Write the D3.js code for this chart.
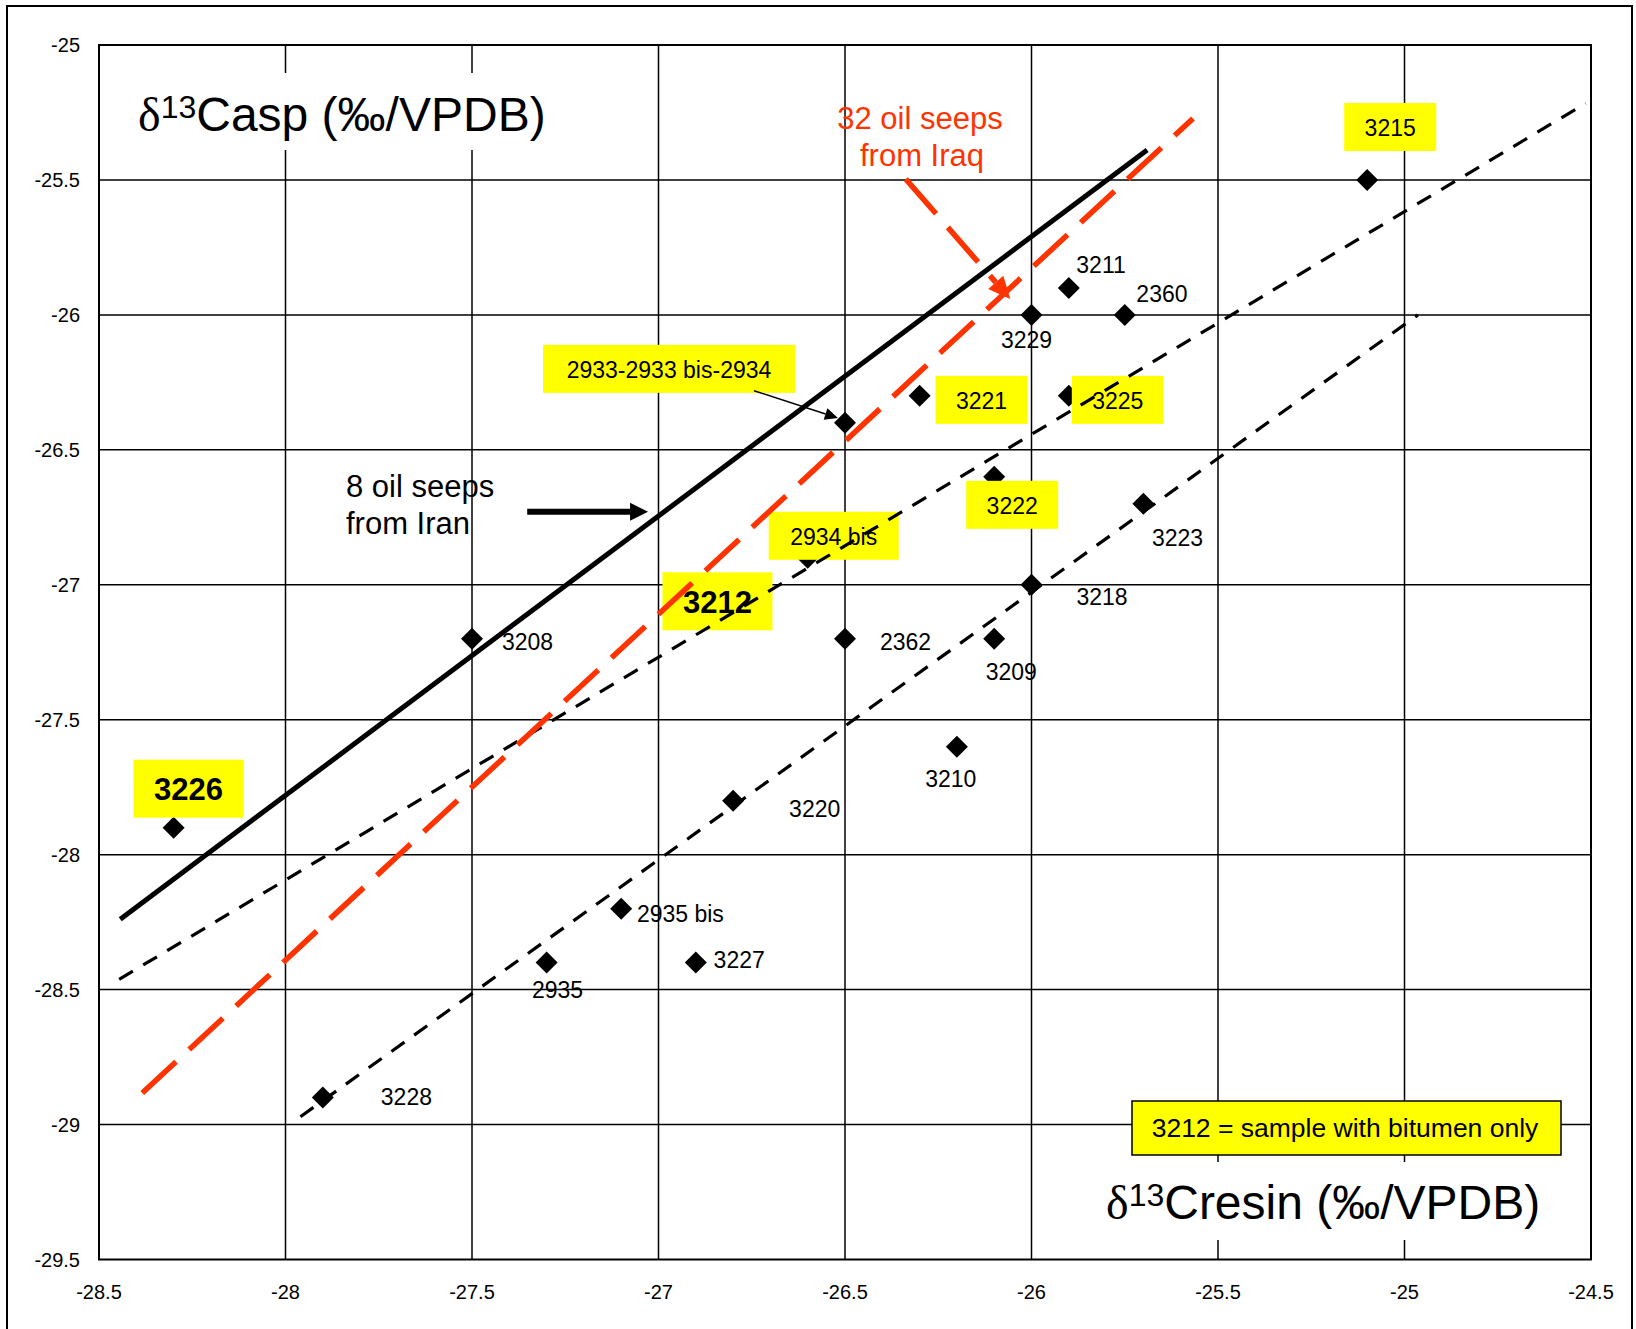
<!DOCTYPE html>
<html>
<head>
<meta charset="utf-8">
<script src="https://cdn.jsdelivr.net/npm/d3@7"></script>
<style>
  body { margin: 0; background: #fff; }
  svg text { font-family: "Liberation Sans", Arial, sans-serif; fill: #000; }
</style>
</head>
<body>
<script>
// samples: d13C of resin (x) and asphaltenes (y), in permil vs VPDB
const sampleIds = ["3215", "3211", "2360", "3229", "3221", "3225", "2933-2933 bis-2934", "3222", "3223",
  "2934 bis", "3212", "3208", "2362", "3218", "3209", "3210", "3220", "3226", "2935 bis", "3227", "2935", "3228"];
const resinValues = [-25.1, -25.9, -25.75, -26, -26.3, -25.9, -26.5, -26.1, -25.7,
  -26.6, -26.85, -27.5, -26.5, -26, -26.1, -26.2, -26.8, -28.3, -27.1, -26.9, -27.3, -27.9];
const aspValues = [-25.5, -25.9, -26, -26, -26.3, -26.3, -26.4, -26.6, -26.7,
  -26.9, -27.05, -27.2, -27.2, -27, -27.2, -27.6, -27.8, -27.9, -28.2, -28.4, -28.4, -28.9];

const boxedIds = ["3215", "3221", "3225", "2933-2933 bis-2934", "3222", "2934 bis", "3212", "3226"];
const bitumenOnly = ["3212", "3226"];

const xTicks = [-28.5, -28, -27.5, -27, -26.5, -26, -25.5, -25, -24.5];
const yTicks = [-25, -25.5, -26, -26.5, -27, -27.5, -28, -28.5, -29, -29.5];

// reference lines, [start, end] in data units
const iranLine = [[-28.443, -28.239], [-25.690, -25.389]];
const iraqLine = [[-28.384, -28.883], [-25.567, -25.272]];
const upperDashed = [[-28.446, -28.462], [-24.514, -25.216]];
const lowerDashed = [[-27.960, -28.971], [-24.964, -26.0]];

// label placement (pixels from the point): box centre for boxed labels, text start otherwise
const labelPos = {
  "3215": [23, -53, 92, 48], "3221": [62, 4, 92, 48], "3225": [49, 4, 92, 48],
  "2933-2933 bis-2934": [-176, -54, 252, 48], "3222": [18, 28, 92, 48],
  "2934 bis": [26, -22, 130, 48], "3212": [3, 3, 110, 58], "3226": [15, -39, 110, 58],
  "3211": [7.5, -14.5], "2360": [11.6, -12.5], "3229": [-30.6, 33], "3223": [8.5, 42],
  "3208": [30, 11.3], "2362": [35, 11.3], "3218": [45, 20], "3209": [-8.5, 41.3],
  "3210": [-31.7, 40], "3220": [56, 16.7], "2935 bis": [15.7, 13.7], "3227": [17.8, 5.7],
  "2935": [-14.7, 35.7], "3228": [58, 7.5]
};

const W = 1636, H = 1329;
const red = "#ff3300";

const svg = d3.select("body").append("svg")
  .attr("width", W)
  .attr("height", H);

const x = d3.scaleLinear().domain([-28.5, -24.5]).range([99, 1591]);
const y = d3.scaleLinear().domain([-29.5, -25]).range([1259.5, 45]);

// outer frame
svg.append("rect")
  .attr("x", 7).attr("y", 6)
  .attr("width", 1625).attr("height", 1345)
  .attr("fill", "none").attr("stroke", "#000").attr("stroke-width", 2);

// grid
const grid = svg.append("g");
grid.selectAll(".vx").data(xTicks.slice(1, -1)).enter().append("line")
  .attr("x1", d => x(d)).attr("x2", d => x(d))
  .attr("y1", y(-25)).attr("y2", y(-29.5))
  .attr("stroke", "#000").attr("stroke-width", 1.5);
grid.selectAll(".hy").data(yTicks.slice(1, -1)).enter().append("line")
  .attr("x1", x(-28.5)).attr("x2", x(-24.5))
  .attr("y1", d => y(d)).attr("y2", d => y(d))
  .attr("stroke", "#000").attr("stroke-width", 1.5);
svg.append("rect")
  .attr("x", x(-28.5)).attr("y", y(-25))
  .attr("width", x(-24.5) - x(-28.5)).attr("height", y(-29.5) - y(-25))
  .attr("fill", "none").attr("stroke", "#000").attr("stroke-width", 2);

// tick labels
svg.selectAll(".xt").data(xTicks).enter().append("text")
  .attr("x", d => x(d)).attr("y", 1299)
  .attr("text-anchor", "middle")
  .style("font-size", "20px")
  .text(d => String(d));
svg.selectAll(".yt").data(yTicks).enter().append("text")
  .attr("x", 80).attr("y", d => y(d)).attr("dy", "0.36em")
  .attr("text-anchor", "end")
  .style("font-size", "20px")
  .text(d => String(d));

// axis titles on white boxes
svg.append("rect").attr("x", 128).attr("y", 73).attr("width", 428).attr("height", 77).attr("fill", "#fff");
svg.append("rect").attr("x", 1096).attr("y", 1162).attr("width", 455).attr("height", 78).attr("fill", "#fff");

function isoTitle(tx, ty, rest) {
  const t = svg.append("text").attr("x", tx).attr("y", ty).style("font-size", "48px");
  t.append("tspan").style("font-family", "'Liberation Serif', serif").text("δ");
  t.append("tspan").attr("dy", -13).style("font-size", "32px").text("13");
  t.append("tspan").attr("dy", 13).text(rest);
}
isoTitle(138, 131, "Casp (‰/VPDB)");
isoTitle(1106, 1219, "Cresin (‰/VPDB)");

// points
const pts = sampleIds.map((id, i) => ({ id, rx: resinValues[i], ay: aspValues[i] }));

svg.append("g").selectAll("path").data(pts).enter().append("path")
  .attr("d", "M0,-11L11,0L0,11L-11,0Z")
  .attr("transform", d => `translate(${x(d.rx)},${y(d.ay)})`)
  .attr("fill", "#000");

// point labels
const labels = svg.append("g");
pts.forEach(d => {
  const p = labelPos[d.id];
  const px = x(d.rx), py = y(d.ay);
  if (boxedIds.includes(d.id)) {
    const bold = bitumenOnly.includes(d.id);
    const cx = px + p[0], cy = py + p[1];
    labels.append("rect")
      .attr("x", cx - p[2] / 2).attr("y", cy - p[3] / 2)
      .attr("width", p[2]).attr("height", p[3])
      .attr("fill", "#ffff00");
    labels.append("text")
      .attr("x", cx).attr("y", cy).attr("dy", bold ? "0.37em" : "0.4em")
      .attr("text-anchor", "middle")
      .style("font-size", bold ? "31px" : "23px")
      .style("font-weight", bold ? "bold" : "normal")
      .text(d.id);
  } else {
    labels.append("text")
      .attr("x", px + p[0]).attr("y", py + p[1])
      .style("font-size", "23px")
      .text(d.id);
  }
});

// legend note
svg.append("rect").attr("x", 1132).attr("y", 1101).attr("width", 429).attr("height", 54)
  .attr("fill", "#ffff00").attr("stroke", "#000").attr("stroke-width", 1.5);
svg.append("text").attr("x", 1345).attr("y", 1137).attr("text-anchor", "middle")
  .style("font-size", "26.5px").text("3212 = sample with bitumen only");

// reference lines
const line = d3.line().x(d => x(d[0])).y(d => y(d[1]));
svg.append("path").datum(upperDashed).attr("d", line)
  .attr("fill", "none").attr("stroke", "#000").attr("stroke-width", 3.2).attr("stroke-dasharray", "16,12");
svg.append("path").datum(lowerDashed).attr("d", line)
  .attr("fill", "none").attr("stroke", "#000").attr("stroke-width", 3.2).attr("stroke-dasharray", "16,12");
svg.append("path").datum(iranLine).attr("d", line)
  .attr("fill", "none").attr("stroke", "#000").attr("stroke-width", 5);
svg.append("path").datum(iraqLine).attr("d", line)
  .attr("fill", "none").attr("stroke", red).attr("stroke-width", 5.5).attr("stroke-dasharray", "46,18");

// arrows
function arrow(a, b, color, width, headLen, headHalf, dash) {
  const x1 = x(a[0]), y1 = y(a[1]), x2 = x(b[0]), y2 = y(b[1]);
  const ang = Math.atan2(y2 - y1, x2 - x1);
  const bx = x2 - headLen * Math.cos(ang), by = y2 - headLen * Math.sin(ang);
  svg.append("line")
    .attr("x1", x1).attr("y1", y1).attr("x2", bx).attr("y2", by)
    .attr("stroke", color).attr("stroke-width", width)
    .attr("stroke-dasharray", dash || null);
  const nx = -Math.sin(ang) * headHalf, ny = Math.cos(ang) * headHalf;
  svg.append("path")
    .attr("d", `M${x2},${y2}L${bx + nx},${by + ny}L${bx - nx},${by - ny}Z`)
    .attr("fill", color);
}
arrow([-27.352, -26.7295], [-27.028, -26.7295], "#000", 6, 18, 9);
arrow([-26.337, -25.497], [-26.057, -25.941], red, 5.5, 22, 10, "46,18");
arrow([-26.744, -26.281], [-26.519, -26.382], "#000", 1.5, 13, 6);

// annotations
const iraqNote = svg.append("text").attr("text-anchor", "middle").style("font-size", "31px").style("fill", red);
iraqNote.append("tspan").attr("x", 920).attr("y", 129).style("fill", red).text("32 oil seeps");
iraqNote.append("tspan").attr("x", 922).attr("y", 166).style("fill", red).text("from Iraq");

const iranNote = svg.append("text").style("font-size", "31px");
iranNote.append("tspan").attr("x", 346).attr("y", 497).text("8 oil seeps");
iranNote.append("tspan").attr("x", 346).attr("y", 534).text("from Iran");
</script>
</body>
</html>
